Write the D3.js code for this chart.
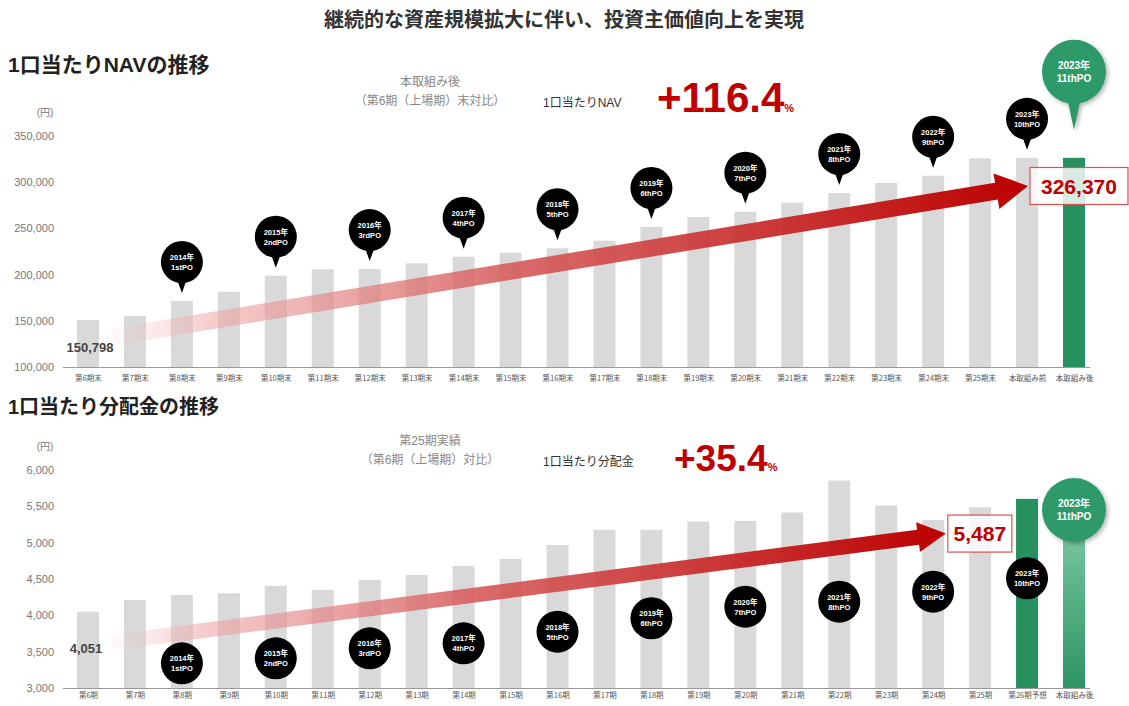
<!DOCTYPE html>
<html>
<head>
<meta charset="utf-8">
<script src="https://cdn.jsdelivr.net/npm/d3@7"></script>
<style>
  body { margin: 0; background: #fff; }
  svg { display: block; font-family: "Liberation Sans", "Noto Sans CJK JP", sans-serif; }
</style>
</head>
<body>
<svg id="chart" width="1129" height="706"></svg>
<script>
// ---- data ----
var navCats = ['第6期末', '第7期末', '第8期末', '第9期末', '第10期末', '第11期末', '第12期末', '第13期末',
  '第14期末', '第15期末', '第16期末', '第17期末', '第18期末', '第19期末', '第20期末', '第21期末',
  '第22期末', '第23期末', '第24期末', '第25期末', '本取組み前', '本取組み後'];
var navValues = [150798, 155200, 171400, 181500, 198800, 205700, 206000, 212200, 219400, 223700, 228500,
  236700, 251500, 262300, 268100, 277800, 288300, 299100, 307000, 325800, 326370, 326370];
var navTicks = [100000, 150000, 200000, 250000, 300000, 350000];

var distCats = ['第6期', '第7期', '第8期', '第9期', '第10期', '第11期', '第12期', '第13期', '第14期',
  '第15期', '第16期', '第17期', '第18期', '第19期', '第20期', '第21期', '第22期', '第23期', '第24期',
  '第25期', '第26期予想', '本取組み後'];
var distValues = [4051, 4212, 4280, 4304, 4405, 4350, 4488, 4556, 4680, 4775, 4968, 5176, 5176, 5290,
  5300, 5415, 5855, 5511, 5314, 5487, 5603, 5600];
var distTicks = [3000, 3500, 4000, 4500, 5000, 5500, 6000];

// public offerings (index of category, year, label)
var ipoIdx = [2, 4, 6, 8, 10, 12, 14, 16, 18, 20];
var ipoYears = ['2014年', '2015年', '2016年', '2017年', '2018年', '2019年', '2020年', '2021年', '2022年', '2023年'];
var ipoNames = ['1stPO', '2ndPO', '3rdPO', '4thPO', '5thPO', '6thPO', '7thPO', '8thPO', '9thPO', '10thPO'];
// vertical position of the distribution chart markers (yen)
var distIpoLevels = [3340, 3409, 3546, 3615, 3775, 3960, 4119, 4188, 4326, 4510];

var GRAY = '#d9d9d9';
var GREEN = '#27905f';
var RED = '#c00000';

var svg = d3.select('#chart');
var defs = svg.append('defs');

var shadow = defs.append('filter').attr('id', 'shadow').attr('x', '-30%').attr('y', '-30%')
  .attr('width', '160%').attr('height', '160%');
shadow.append('feDropShadow').attr('dx', 2).attr('dy', 2).attr('stdDeviation', 2)
  .attr('flood-color', '#000').attr('flood-opacity', 0.3);

var fadeGreen = defs.append('linearGradient').attr('id', 'fadeGreen')
  .attr('x1', 0).attr('y1', 0).attr('x2', 0).attr('y2', 1);
fadeGreen.append('stop').attr('offset', 0).attr('stop-color', '#8fd0b0');
fadeGreen.append('stop').attr('offset', 0.45).attr('stop-color', '#5cb58a');
fadeGreen.append('stop').attr('offset', 1).attr('stop-color', '#2e9464');

// ---- titles ----
svg.append('text').attr('x', 564).attr('y', 27).attr('text-anchor', 'middle')
  .style('font-size', '20px').style('font-weight', 'bold').style('fill', '#333')
  .text('継続的な資産規模拡大に伴い、投資主価値向上を実現');

function drawPanel(opt) {
  var g = svg.append('g');
  var x = d3.scalePoint().domain(opt.cats).range([88, 1074]);
  var y = d3.scaleLinear().domain(opt.domain).range(opt.range);
  var step = x.step();
  var xi = function (i) { return x(opt.cats[0]) + i * step; };
  var barW = 22;
  var last = opt.cats.length - 1;

  g.append('text').attr('x', 8).attr('y', opt.titleY).style('font-size', opt.titleSize + 'px')
    .style('font-weight', 'bold').style('fill', '#222').text(opt.title);

  // y axis
  var yAxis = g.append('g').attr('transform', 'translate(54,0)')
    .call(d3.axisLeft(y).tickValues(opt.ticks).tickSize(0).tickPadding(0).tickFormat(d3.format(',')));
  yAxis.select('.domain').remove();
  yAxis.selectAll('text').style('font-size', '11px').style('fill', '#777')
    .style('font-family', '"Liberation Sans", sans-serif');
  g.append('text').attr('x', 45).attr('y', y(opt.domain[1]) - 20).attr('text-anchor', 'middle')
    .style('font-size', '10px').style('fill', '#777').text('(円)');

  // bars
  g.selectAll('rect.bar').data(opt.values).enter().append('rect')
    .attr('class', 'bar')
    .attr('x', function (d, i) { return x(opt.cats[i]) - barW / 2; })
    .attr('y', function (d) { return y(d); })
    .attr('width', barW)
    .attr('height', function (d) { return y(opt.domain[0]) - y(d); })
    .style('fill', function (d, i) {
      if (opt.greenFrom !== undefined && i >= opt.greenFrom) {
        return (opt.fadeLast && i === last) ? 'url(#fadeGreen)' : GREEN;
      }
      return GRAY;
    });

  // x axis
  g.append('line').attr('x1', 63).attr('x2', 1090)
    .attr('y1', y(opt.domain[0]) + 0.5).attr('y2', y(opt.domain[0]) + 0.5)
    .style('stroke', '#999').style('stroke-width', 1);
  var xAxis = g.append('g').attr('transform', 'translate(0,' + y(opt.domain[0]) + ')')
    .call(d3.axisBottom(x).tickSize(0).tickPadding(opt.xPad));
  xAxis.select('.domain').remove();
  xAxis.selectAll('text').style('font-size', '7.5px').style('fill', '#555')
    .style('font-family', '"Noto Sans CJK JP", sans-serif');

  // arrow
  var S = [xi(opt.arrow[0][0]), y(opt.arrow[0][1])];
  var T = [xi(opt.arrow[1][0]), y(opt.arrow[1][1])];
  var dx = T[0] - S[0], dy = T[1] - S[1], len = Math.sqrt(dx * dx + dy * dy);
  var u = [dx / len, dy / len], n = [-u[1], u[0]];
  var w = opt.arrowW / 2, L = opt.headL, H = opt.headW / 2;
  var B = [T[0] - u[0] * L, T[1] - u[1] * L];
  var pts = [
    [S[0] + n[0] * w, S[1] + n[1] * w], [B[0] + n[0] * w, B[1] + n[1] * w],
    [B[0] + n[0] * H, B[1] + n[1] * H], T,
    [B[0] - n[0] * H, B[1] - n[1] * H], [B[0] - n[0] * w, B[1] - n[1] * w],
    [S[0] - n[0] * w, S[1] - n[1] * w]
  ];
  var gid = 'arrowGrad' + opt.id;
  var grad = defs.append('linearGradient').attr('id', gid).attr('gradientUnits', 'userSpaceOnUse')
    .attr('x1', S[0]).attr('y1', S[1]).attr('x2', T[0]).attr('y2', T[1]);
  grad.append('stop').attr('offset', 0).attr('stop-color', '#f4c2c2').attr('stop-opacity', 0);
  grad.append('stop').attr('offset', 0.12).attr('stop-color', '#eeaaaa').attr('stop-opacity', 0.6);
  grad.append('stop').attr('offset', 0.45).attr('stop-color', '#d65a5a').attr('stop-opacity', 0.9);
  grad.append('stop').attr('offset', 1).attr('stop-color', '#bb0000').attr('stop-opacity', 1);
  g.append('polygon').attr('points', pts.map(function (p) { return p.join(','); }).join(' '))
    .style('fill', 'url(#' + gid + ')');

  // start value label
  g.append('text').attr('x', x(opt.cats[0]) + opt.startDx).attr('y', y(opt.startLabelY))
    .attr('text-anchor', 'middle').attr('dy', '0.35em')
    .style('font-size', '13px').style('font-weight', 'bold').style('fill', '#444')
    .text(d3.format(',')(opt.values[0]));

  // markers
  opt.drawMarkers(g, x, y, xi);

  // end value box
  var boxW = opt.boxW, boxH = 37;
  var bx = T[0] + 2, by = T[1] - boxH / 2;
  g.append('rect').attr('x', bx).attr('y', by).attr('width', boxW).attr('height', boxH)
    .style('fill', 'rgba(255,255,255,0.82)').style('stroke', '#d9534f').style('stroke-width', 1.2);
  g.append('text').attr('x', bx + boxW / 2).attr('y', T[1]).attr('dy', '0.36em')
    .attr('text-anchor', 'middle').style('font-size', '21px').style('font-weight', 'bold')
    .style('fill', RED).text(d3.format(',')(opt.endValue));

  // comparison header
  var hx = 430;
  g.append('text').attr('x', hx).attr('y', opt.headY).attr('text-anchor', 'middle')
    .style('font-size', '12px').style('fill', '#888').text(opt.head1);
  g.append('text').attr('x', hx).attr('y', opt.headY + 19).attr('text-anchor', 'middle')
    .style('font-size', '12px').style('fill', '#888').text(opt.head2);
  g.append('text').attr('x', 543).attr('y', opt.headY + 21)
    .style('font-size', '12px').style('fill', '#333').text(opt.measure);
  var big = g.append('text').attr('x', opt.bigX).attr('y', opt.headY + 26)
    .style('fill', RED).style('font-weight', 'bold');
  big.append('tspan').style('font-size', opt.bigSize + 'px').text(opt.big);
  big.append('tspan').style('font-size', '11px').text('%');

  return { x: x, y: y };
}

function pinText(sel, cx, cy, l1, l2, size) {
  sel.append('text').attr('x', cx).attr('y', cy - size * 0.25).attr('text-anchor', 'middle')
    .style('font-size', size + 'px').style('font-weight', 'bold').style('fill', '#fff').text(l1);
  sel.append('text').attr('x', cx).attr('y', cy + size * 1.05).attr('text-anchor', 'middle')
    .style('font-size', size + 'px').style('font-weight', 'bold').style('fill', '#fff').text(l2);
}

// ---- NAV panel ----
drawPanel({
  id: 'nav', cats: navCats, values: navValues, domain: [100000, 350000], range: [367, 136],
  ticks: navTicks, title: '1口当たりNAVの推移', titleY: 72, titleSize: 21, xPad: 9, greenFrom: 21,
  arrow: [[0.26, 130300], [20.02, 295900]], arrowW: 17, headL: 32, headW: 36,
  startDx: 2, startLabelY: 121000, boxW: 98, endValue: 326370,
  headY: 86, head1: '本取組み後', head2: '（第6期（上場期）末対比）', measure: '1口当たりNAV',
  bigX: 657, bigSize: 42, big: '+116.4',
  drawMarkers: function (g, x, y, xi) {
    var r = 21;
    ipoIdx.forEach(function (idx, k) {
      var cx = x(navCats[idx]);
      var tip = y(navValues[idx]) - 8;
      var cy = tip - r - 10;
      var m = g.append('g');
      m.append('path').attr('d', 'M' + (cx - 5) + ',' + (cy + r - 4) + 'L' + (cx + 5) + ',' + (cy + r - 4) +
        'L' + cx + ',' + tip + 'Z').style('fill', '#000');
      m.append('circle').attr('cx', cx).attr('cy', cy).attr('r', r).style('fill', '#000');
      pinText(m, cx, cy, ipoYears[k], ipoNames[k], 7.5);
    });
    // 11th PO
    var cx = x(navCats[navCats.length - 1]);
    var tip = y(navValues[navValues.length - 1]) - 28;
    var R = 32, cy = tip - 58;
    var m = g.append('g').attr('filter', 'url(#shadow)');
    m.append('path').attr('d', 'M' + (cx - 7) + ',' + (cy + R - 6) + 'L' + (cx + 7) + ',' + (cy + R - 6) +
      'L' + cx + ',' + tip + 'Z').style('fill', '#2d9a6a');
    m.append('circle').attr('cx', cx).attr('cy', cy).attr('r', R).style('fill', '#2d9a6a');
    pinText(g, cx, cy, '2023年', '11thPO', 10);
  }
});

// ---- distribution panel ----
drawPanel({
  id: 'dist', cats: distCats, values: distValues, domain: [3000, 6000], range: [688, 470],
  ticks: distTicks, title: '1口当たり分配金の推移', titleY: 414, titleSize: 20, xPad: 5, greenFrom: 20,
  fadeLast: true,
  arrow: [[0.26, 3606], [18.27, 5125]], arrowW: 15, headL: 28, headW: 30,
  startDx: -2, startLabelY: 3550, boxW: 64, endValue: 5487,
  headY: 445, head1: '第25期実績', head2: '（第6期（上場期）対比）', measure: '1口当たり分配金',
  bigX: 674, bigSize: 37, big: '+35.4',
  drawMarkers: function (g, x, y, xi) {
    var r = 21;
    ipoIdx.forEach(function (idx, k) {
      var cx = x(distCats[idx]);
      var cy = y(distIpoLevels[k]);
      var m = g.append('g');
      m.append('circle').attr('cx', cx).attr('cy', cy).attr('r', r).style('fill', '#000');
      pinText(m, cx, cy, ipoYears[k], ipoNames[k], 7.5);
    });
    var cx = x(distCats[distCats.length - 1]);
    var cy = y(5450), R = 32;
    g.append('circle').attr('cx', cx).attr('cy', cy).attr('r', R).style('fill', '#2d9a6a')
      .attr('filter', 'url(#shadow)');
    pinText(g, cx, cy, '2023年', '11thPO', 10);
  }
});
</script>
</body>
</html>
